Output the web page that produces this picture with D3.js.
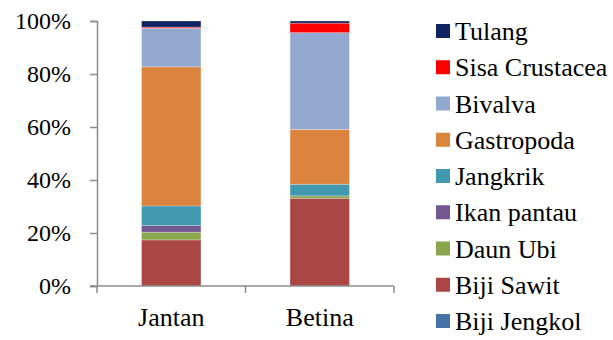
<!DOCTYPE html>
<html>
<head>
<meta charset="utf-8">
<script src="https://cdn.jsdelivr.net/npm/d3@7"></script>
<style>
  html, body { margin: 0; padding: 0; background: #fff; }
  svg { display: block; }
  text { font-family: "Liberation Serif", "Times New Roman", serif; fill: #000; }
</style>
</head>
<body>
<svg id="chart" width="613" height="340"></svg>
<script>
// Diet composition (%) by sex
const groups = ["Jantan", "Betina"];
const items = ["Biji Jengkol", "Biji Sawit", "Daun Ubi", "Ikan pantau", "Jangkrik",
               "Gastropoda", "Bivalva", "Sisa Crustacea", "Tulang"];
const jantan = [0, 17.4, 2.9, 2.5, 7.4, 52.5, 14.6, 0.4, 2.3];
const betina = [0, 33.1, 0.9, 0, 4.4, 20.7, 36.5, 3.6, 0.8];
const colors = ["#4572A7", "#AA4643", "#89A54E", "#71588F", "#4198AF",
                "#DB843D", "#93A9CF", "#FF0000", "#0F2463"];
const yTicks = [0, 20, 40, 60, 80, 100];

const rows = groups.map((g, i) => {
  const vals = i === 0 ? jantan : betina;
  const r = { group: g };
  items.forEach((k, j) => r[k] = vals[j]);
  return r;
});

const svg = d3.select("#chart");
const x0 = 97, x1 = 394, yTop = 21, yBot = 286;

const x = d3.scaleBand().domain(groups).range([x0, x1]).paddingInner(0.6).paddingOuter(0.3);
const y = d3.scaleLinear().domain([0, 100]).range([yBot, yTop]);
const color = d3.scaleOrdinal().domain(items).range(colors);

const stack = d3.stack().keys(items)(rows);

// stacked bars
svg.append("g").selectAll("g")
  .data(stack).join("g")
  .attr("fill", d => color(d.key))
  .selectAll("rect")
  .data(d => d.filter(p => p[1] - p[0] > 0))
  .join("rect")
  .attr("x", d => x(d.data.group))
  .attr("width", x.bandwidth())
  .attr("y", d => y(d[1]))
  .attr("height", d => y(d[0]) - y(d[1]))
  .attr("stroke", "rgba(255,255,255,0.35)")
  .attr("stroke-width", 0.8);

// y axis
const yAxis = d3.axisLeft(y).tickValues(yTicks).tickFormat(d => d + "%").tickSize(7).tickPadding(19);
const gy = svg.append("g").attr("transform", `translate(${x0},0)`).call(yAxis);
gy.select(".domain").attr("stroke", "#8c8c8c").attr("stroke-width", 1.5);
gy.selectAll(".tick line").attr("stroke", "#8c8c8c").attr("stroke-width", 1.5);
gy.selectAll(".tick text").style("font-size", "24px").style("font-family", "Liberation Serif");

// x axis baseline with boundary ticks
const gx = svg.append("g").attr("transform", `translate(0,${yBot})`);
gx.append("line").attr("x1", 90).attr("x2", x1).attr("y1", 0).attr("y2", 0)
  .attr("stroke", "#8c8c8c").attr("stroke-width", 1.5);
const step = (x1 - x0) / groups.length;
d3.range(groups.length + 1).forEach(i => {
  gx.append("line").attr("x1", x0 + i * step).attr("x2", x0 + i * step)
    .attr("y1", 0).attr("y2", 7).attr("stroke", "#8c8c8c").attr("stroke-width", 1.5);
});
gx.selectAll("text.cat").data(groups).join("text")
  .attr("class", "cat")
  .attr("x", d => x(d) + x.bandwidth() / 2)
  .attr("y", 40)
  .attr("text-anchor", "middle")
  .style("font-size", "26px")
  .text(d => d);

// legend, top entry is the last stacked item
const legendItems = items.slice().reverse();
const lg = svg.append("g").attr("transform", "translate(436,24)");
const li = lg.selectAll("g").data(legendItems).join("g")
  .attr("transform", (d, i) => `translate(0,${i * 36.25})`);
li.append("rect").attr("width", 14).attr("height", 14).attr("fill", d => color(d));
li.append("text").attr("x", 19).attr("y", 7).attr("dy", "0.35em")
  .style("font-size", "26px").text(d => d);
</script>
</body>
</html>
